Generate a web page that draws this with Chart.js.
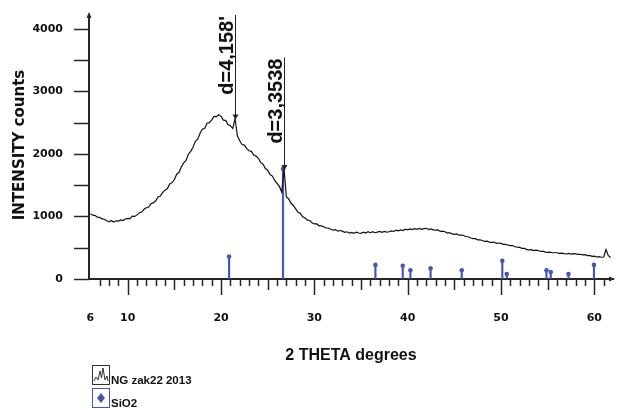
<!DOCTYPE html>
<html>
<head>
<meta charset="utf-8">
<script src="https://cdn.jsdelivr.net/npm/chart.js@4.4.1/dist/chart.umd.min.js"></script>
<style>
    html, body { margin: 0; padding: 0; background: #ffffff; }
    #wrap { width: 617px; height: 410px; }
</style>
</head>
<body>
<div id="wrap"><canvas id="xrdChart" width="617" height="410"></canvas></div>
<script>
// ===== DATA =====
const scanStart = 6;
const scanStep = 0.25;
// counts, one row per degree (x.00, x.25, x.50, x.75)
const counts = [
    1045, 1020, 1015, 990,
    985, 960, 955, 930,
    915, 935, 910, 930,
    925, 945, 935, 960,
    970, 965, 1005, 1000,
    1025, 1060, 1070, 1115,
    1140, 1150, 1205, 1220,
    1250, 1310, 1325, 1385,
    1420, 1445, 1520, 1540,
    1590, 1675, 1705, 1795,
    1855, 1895, 1995, 2040,
    2110, 2200, 2235, 2330,
    2395, 2410, 2490, 2500,
    2545, 2600, 2595, 2625,
    2600, 2540, 2535, 2470,
    2450, 2405, 2565, 2290,
    2210, 2150, 2140, 2085,
    2050, 2040, 1980, 1965,
    1930, 1860, 1835, 1765,
    1740, 1670, 1645, 1575,
    1530, 1480, 1390, 1760,
    1310, 1280, 1210, 1175,
    1120, 1065, 1050, 995,
    975, 940, 935, 900,
    880, 880, 850, 850,
    835, 815, 815, 795,
    780, 790, 765, 775,
    765, 745, 755, 735,
    745, 730, 750, 735,
    730, 750, 735, 755,
    740, 755, 740, 750,
    760, 745, 760, 750,
    755, 770, 760, 780,
    770, 785, 775, 795,
    785, 800, 790, 805,
    795, 810, 795, 805,
    810, 790, 800, 785,
    780, 785, 760, 765,
    755, 735, 740, 720,
    715, 720, 700, 700,
    695, 675, 675, 655,
    645, 645, 625, 625,
    615, 600, 605, 590,
    585, 590, 570, 575,
    570, 555, 555, 540,
    535, 535, 515, 510,
    505, 490, 490, 470,
    465, 470, 455, 460,
    455, 440, 445, 430,
    425, 430, 420, 420,
    420, 410, 412, 405,
    400, 408, 398, 405,
    402, 395, 395, 385,
    390, 375, 378, 362,
    365, 352, 358, 348,
    352, 470, 372, 345
];

const sio2Angles = [20.86, 26.64, 36.54, 39.47, 40.29, 42.45, 45.79, 50.14, 50.62, 54.87, 55.33, 57.23, 59.96];
const sio2Heights = [360, 1760, 225, 210, 140, 170, 140, 290, 80, 140, 110, 80, 225];

const peakLabels = ["d=4,158'", 'd=3,3538'];
const peakAngles = [21.5, 26.75];
const peakCounts = [2565, 1760];
const peakLineTops = [4220, 3540];

const seriesNames = ['NG zak22 2013', 'SiO2'];
const xLabelTicks = [6, 10, 20, 30, 40, 50, 60];
const yTicks = [0, 500, 1000, 1500, 2000, 2500, 3000, 3500, 4000];

const axisColor = '#262626';
const stickColor = '#4756b4';

document.addEventListener('DOMContentLoaded', function () {
    const scanPoints = counts.map((c, i) => ({ x: scanStart + i * scanStep, y: c }));
    const sticks = sio2Angles.map((a, i) => ({ x: a, y: sio2Heights[i] }));

    const xrdDecor = {
        id: 'xrdDecor',
        afterDraw(chart) {
            const { ctx, chartArea: area, scales: { x, y } } = chart;
            ctx.save();

            ctx.strokeStyle = axisColor;
            ctx.lineWidth = 1.5;
            // intensity ticks
            yTicks.forEach(v => {
                const py = Math.round(y.getPixelForValue(v)) + 0.5;
                ctx.beginPath();
                ctx.moveTo(area.left - 15, py);
                ctx.lineTo(area.left, py);
                ctx.stroke();
            });
            // 2theta minor / mid / major ticks
            for (let v = 7; v <= 61; v++) {
                const px = Math.round(x.getPixelForValue(v)) + 0.5;
                const len = v % 10 === 0 ? 16 : (v % 5 === 0 ? 11 : 7);
                ctx.beginPath();
                ctx.moveTo(px, area.bottom);
                ctx.lineTo(px, area.bottom + len);
                ctx.stroke();
            }

            // arrow heads
            ctx.fillStyle = axisColor;
            ctx.beginPath();
            ctx.moveTo(area.left, area.top - 3);
            ctx.lineTo(area.left - 2.5, area.top + 3);
            ctx.lineTo(area.left + 2.5, area.top + 3);
            ctx.fill();
            ctx.beginPath();
            ctx.moveTo(area.right + 2, area.bottom);
            ctx.lineTo(area.right - 4, area.bottom - 2.5);
            ctx.lineTo(area.right - 4, area.bottom + 2.5);
            ctx.fill();

            // d-spacing markers
            peakAngles.forEach((a, i) => {
                const px = Math.round(x.getPixelForValue(a)) + 0.5;
                const top = y.getPixelForValue(peakLineTops[i]);
                const bot = y.getPixelForValue(peakCounts[i]);
                ctx.strokeStyle = '#222';
                ctx.lineWidth = 1;
                ctx.beginPath();
                ctx.moveTo(px, top);
                ctx.lineTo(px, bot);
                ctx.stroke();
                ctx.fillStyle = '#222';
                ctx.beginPath();
                ctx.moveTo(px - 3, bot - 4);
                ctx.lineTo(px + 3, bot - 4);
                ctx.lineTo(px, bot + 1);
                ctx.fill();

                ctx.save();
                ctx.translate(px - 3, top + 1);
                ctx.rotate(-Math.PI / 2);
                ctx.font = 'bold 20px "Liberation Sans", Arial, sans-serif';
                ctx.textAlign = 'right';
                ctx.textBaseline = 'alphabetic';
                ctx.fillStyle = '#111';
                ctx.fillText(peakLabels[i], 0, 0);
                ctx.restore();
            });

            // axis titles
            ctx.fillStyle = '#111';
            ctx.save();
            ctx.translate(24, 145);
            ctx.rotate(-Math.PI / 2);
            ctx.font = 'bold 15px "DejaVu Sans", sans-serif';
            ctx.textAlign = 'center';
            ctx.textBaseline = 'alphabetic';
            ctx.fillText('INTENSITY counts', 0, 0);
            ctx.restore();

            ctx.font = 'bold 16px "Liberation Sans", Arial, sans-serif';
            ctx.textAlign = 'center';
            ctx.textBaseline = 'alphabetic';
            ctx.fillText('2 THETA degrees', 351, 360);

            // legend
            ctx.lineWidth = 1;
            ctx.strokeStyle = '#333';
            ctx.strokeRect(92.5, 365.5, 17, 19);
            ctx.beginPath();
            const wave = [[94, 381], [96, 377], [98, 380], [100, 371], [101.5, 378], [103, 368], [105, 380], [107, 376], [108, 381]];
            wave.forEach((p, k) => k ? ctx.lineTo(p[0], p[1]) : ctx.moveTo(p[0], p[1]));
            ctx.stroke();

            ctx.strokeStyle = stickColor;
            ctx.strokeRect(92.5, 388.5, 17, 19);
            ctx.fillStyle = stickColor;
            ctx.beginPath();
            ctx.moveTo(101, 393);
            ctx.lineTo(105, 398);
            ctx.lineTo(101, 403);
            ctx.lineTo(97, 398);
            ctx.fill();

            ctx.fillStyle = '#111';
            ctx.font = 'bold 11.5px "Liberation Sans", Arial, sans-serif';
            ctx.textAlign = 'left';
            ctx.textBaseline = 'alphabetic';
            ctx.fillText(seriesNames[0], 111, 384);
            ctx.fillText(seriesNames[1], 111, 407);

            ctx.restore();
        }
    };

    new Chart(document.getElementById('xrdChart'), {
        type: 'line',
        data: {
            datasets: [
                {
                    type: 'bar',
                    label: seriesNames[1],
                    data: sticks,
                    backgroundColor: stickColor,
                    barThickness: 1.5,
                    grouped: false,
                    order: 2
                },
                {
                    type: 'scatter',
                    label: seriesNames[1] + ' top',
                    data: sticks,
                    pointRadius: 2.3,
                    pointStyle: 'circle',
                    backgroundColor: stickColor,
                    borderWidth: 0,
                    order: 1
                },
                {
                    type: 'line',
                    label: seriesNames[0],
                    data: scanPoints,
                    borderColor: '#111',
                    borderWidth: 1.2,
                    pointRadius: 0,
                    tension: 0,
                    order: 0
                }
            ]
        },
        options: {
            responsive: false,
            animation: false,
            layout: { padding: { top: 15, right: 2, left: 0, bottom: 0 } },
            scales: {
                x: {
                    type: 'linear',
                    min: 5.85,
                    max: 62,
                    offset: false,
                    afterFit: (scale) => { scale.height = 131; },
                    afterBuildTicks: (scale) => { scale.ticks = xLabelTicks.map(v => ({ value: v })); },
                    grid: { drawOnChartArea: false, drawTicks: true, tickLength: 30, tickColor: 'rgba(0,0,0,0)' },
                    border: { display: true, color: axisColor, width: 2 },
                    ticks: {
                        autoSkip: false,
                        maxRotation: 0,
                        padding: 3,
                        color: '#111',
                        font: { family: 'DejaVu Sans', weight: 'bold', size: 11 }
                    }
                },
                y: {
                    min: 0,
                    max: 4220,
                    afterFit: (scale) => { scale.width = 89; },
                    afterBuildTicks: (scale) => { scale.ticks = yTicks.map(v => ({ value: v })); },
                    grid: { drawOnChartArea: false, drawTicks: true, tickLength: 26, tickColor: 'rgba(0,0,0,0)' },
                    border: { display: true, color: axisColor, width: 2 },
                    ticks: {
                        padding: 0,
                        color: '#111',
                        font: { family: 'DejaVu Sans', weight: 'bold', size: 11 },
                        callback: (v) => (v % 1000 === 0 ? v : '')
                    }
                }
            },
            plugins: {
                legend: { display: false },
                tooltip: { enabled: false }
            }
        },
        plugins: [xrdDecor]
    });
});
</script>
</body>
</html>
